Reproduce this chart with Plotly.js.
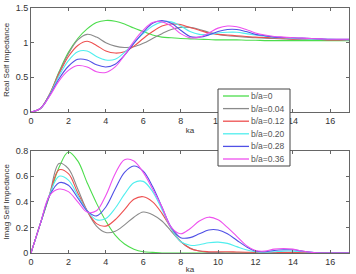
<!DOCTYPE html>
<html><head><meta charset="utf-8">
<script src="https://cdn.plot.ly/plotly-3.0.1.min.js"></script>
<style>html,body{margin:0;padding:0;background:#fff}#c{width:356px;height:274px}</style>
</head><body><div id="c"></div>
<script>
const ka = [0,0.5,1,1.5,2,2.5,3,3.5,4,4.5,5,5.5,6,6.5,7,7.5,8,8.5,9,9.5,10,10.5,11,11.5,12,12.5,13,13.5,14,14.5,15,15.5,16,16.5,17];
const labels = ['b/a=0','b/a=0.04','b/a=0.12','b/a=0.20','b/a=0.28','b/a=0.36'];
const colors = ['#4ddd4d','#8a8a8a','#ee5050','#50eeee','#5050e6','#ee50ee'];

const realG = [0,0.05,0.26,0.58,0.86,1.06,1.2,1.29,1.32,1.31,1.27,1.21,1.16,1.11,1.08,1.07,1.06,1.055,1.05,1.045,1.04,1.04,1.04,1.035,1.035,1.03,1.03,1.03,1.03,1.03,1.03,1.03,1.03,1.03,1.03];
const realK = [0,0.05,0.26,0.57,0.84,1.04,1.12,1.08,1.0,0.95,0.93,0.94,0.99,1.06,1.13,1.19,1.22,1.22,1.19,1.15,1.12,1.1,1.09,1.08,1.07,1.065,1.06,1.055,1.05,1.05,1.05,1.045,1.04,1.04,1.04];
const realR = [0,0.05,0.26,0.55,0.8,0.96,1.02,0.96,0.88,0.85,0.87,0.95,1.06,1.16,1.24,1.27,1.26,1.22,1.18,1.14,1.12,1.11,1.1,1.09,1.08,1.075,1.07,1.06,1.05,1.05,1.05,1.045,1.04,1.04,1.04];
const realC = [0,0.05,0.25,0.52,0.74,0.87,0.88,0.8,0.75,0.76,0.86,1.0,1.13,1.24,1.3,1.3,1.24,1.16,1.12,1.12,1.14,1.15,1.15,1.13,1.11,1.095,1.08,1.07,1.06,1.055,1.05,1.05,1.05,1.045,1.04];
const realB = [0,0.05,0.24,0.48,0.66,0.76,0.75,0.68,0.65,0.69,0.82,0.99,1.15,1.28,1.32,1.28,1.18,1.09,1.08,1.11,1.16,1.19,1.19,1.16,1.12,1.1,1.08,1.075,1.07,1.065,1.06,1.055,1.05,1.05,1.05];
const realM = [0,0.05,0.23,0.45,0.6,0.67,0.65,0.58,0.57,0.65,0.82,1.02,1.18,1.29,1.3,1.24,1.13,1.07,1.08,1.14,1.21,1.24,1.23,1.19,1.14,1.11,1.09,1.08,1.07,1.065,1.06,1.055,1.05,1.05,1.05];

const imagG = [0,0.23,0.45,0.67,0.79,0.72,0.55,0.39,0.25,0.14,0.07,0.03,0.01,0.005,0,0,0,0,0,0,0,0,0,0,0,0,0,0,0,0,0,0,0,0,0];
const imagK = [0,0.23,0.46,0.7,0.66,0.5,0.33,0.21,0.16,0.17,0.22,0.28,0.32,0.3,0.25,0.17,0.09,0.04,0.015,0.005,0.003,0,0,0,0,0,0,0,0,0,0,0,0,0,0];
const imagR = [0,0.23,0.46,0.65,0.62,0.47,0.33,0.23,0.21,0.26,0.34,0.42,0.44,0.4,0.31,0.19,0.09,0.035,0.015,0.01,0.01,0.01,0.008,0.006,0.005,0.004,0.004,0.005,0.005,0.004,0.003,0.002,0,0,0];
const imagC = [0,0.23,0.46,0.6,0.57,0.45,0.33,0.26,0.27,0.35,0.46,0.55,0.56,0.48,0.34,0.19,0.09,0.06,0.065,0.08,0.085,0.075,0.05,0.025,0.01,0.006,0.01,0.015,0.015,0.01,0.005,0,0,0,0];
const imagB = [0,0.23,0.45,0.55,0.53,0.43,0.33,0.29,0.36,0.5,0.63,0.68,0.64,0.52,0.36,0.2,0.12,0.12,0.15,0.18,0.18,0.15,0.1,0.05,0.015,0.01,0.02,0.025,0.025,0.015,0.005,0,0,0,0];
const imagM = [0,0.23,0.45,0.5,0.48,0.4,0.32,0.33,0.45,0.62,0.73,0.72,0.63,0.5,0.36,0.2,0.15,0.19,0.25,0.28,0.26,0.2,0.13,0.06,0.02,0.015,0.03,0.035,0.03,0.015,0.005,0,0,0,0];

const realSets = [realG,realK,realR,realC,realB,realM];
const imagSets = [imagG,imagK,imagR,imagC,imagB,imagM];

const traces = [];
realSets.forEach((ys,i)=>traces.push({x:ka,y:ys,type:'scatter',mode:'lines',line:{color:colors[i],width:1.1,shape:'spline'},name:labels[i],xaxis:'x',yaxis:'y'}));
imagSets.forEach((ys,i)=>traces.push({x:ka,y:ys,type:'scatter',mode:'lines',line:{color:colors[i],width:1.1,shape:'spline'},name:labels[i],xaxis:'x2',yaxis:'y2'}));

// manual MATLAB-style legend (compact rows)
const W=356,H=274,ML=31,MR=7,MT=8,MB=21;
const pw=W-ML-MR, ph=H-MT-MB;
const px = v => (v-ML)/pw, py = v => (H-MB-v)/ph;
const shapes=[{type:'rect',xref:'paper',yref:'paper',x0:px(218),x1:px(290),y0:py(166),y1:py(89),fillcolor:'#fff',line:{color:'#444',width:1},layer:'above'}];
const annotations=[];
labels.forEach((lab,i)=>{
  const yy = 96 + i*12.6;
  shapes.push({type:'line',xref:'paper',yref:'paper',x0:px(223),x1:px(249),y0:py(yy),y1:py(yy),line:{color:colors[i],width:1.3},layer:'above'});
  annotations.push({xref:'paper',yref:'paper',x:px(250),y:py(yy),xanchor:'left',yanchor:'middle',text:lab,showarrow:false,borderpad:0,font:{size:8.5,color:'#555'}});
});

const ax = {showline:true,mirror:'ticks',ticks:'inside',ticklen:3,linecolor:'#666',linewidth:1,tickcolor:'#666',showgrid:false,zeroline:false,tickfont:{size:9,color:'#333'}};
const layout = {
  width:W,height:H,
  margin:{l:ML,r:MR,t:MT,b:MB},
  paper_bgcolor:'#fff',plot_bgcolor:'#fff',
  font:{family:'Liberation Sans, Arial, sans-serif',size:9,color:'#333'},
  showlegend:false,
  xaxis:Object.assign({},ax,{domain:[0,1],range:[0,17],tickvals:[0,2,4,6,8,10,12,14,16],anchor:'y',title:{text:'ka',font:{size:8},standoff:2}}),
  yaxis:Object.assign({},ax,{domain:[0.5755,1],range:[0,1.5],tickvals:[0,0.5,1,1.5],ticktext:['0','0.5','1','1.5'],anchor:'x',title:{text:'Real Self Impedance',font:{size:8},standoff:4}}),
  xaxis2:Object.assign({},ax,{domain:[0,1],range:[0,17],tickvals:[0,2,4,6,8,10,12,14,16],anchor:'y2',title:{text:'ka',font:{size:8},standoff:3}}),
  yaxis2:Object.assign({},ax,{domain:[0,0.4176],range:[0,0.8],tickvals:[0,0.2,0.4,0.6,0.8],ticktext:['0','0.2','0.4','0.6','0.8'],anchor:'x2',title:{text:'Imag Self Impedance',font:{size:8},standoff:4}}),
  shapes:shapes,annotations:annotations
};
Plotly.newPlot('c',traces,layout,{staticPlot:true,displayModeBar:false});
</script></body></html>
